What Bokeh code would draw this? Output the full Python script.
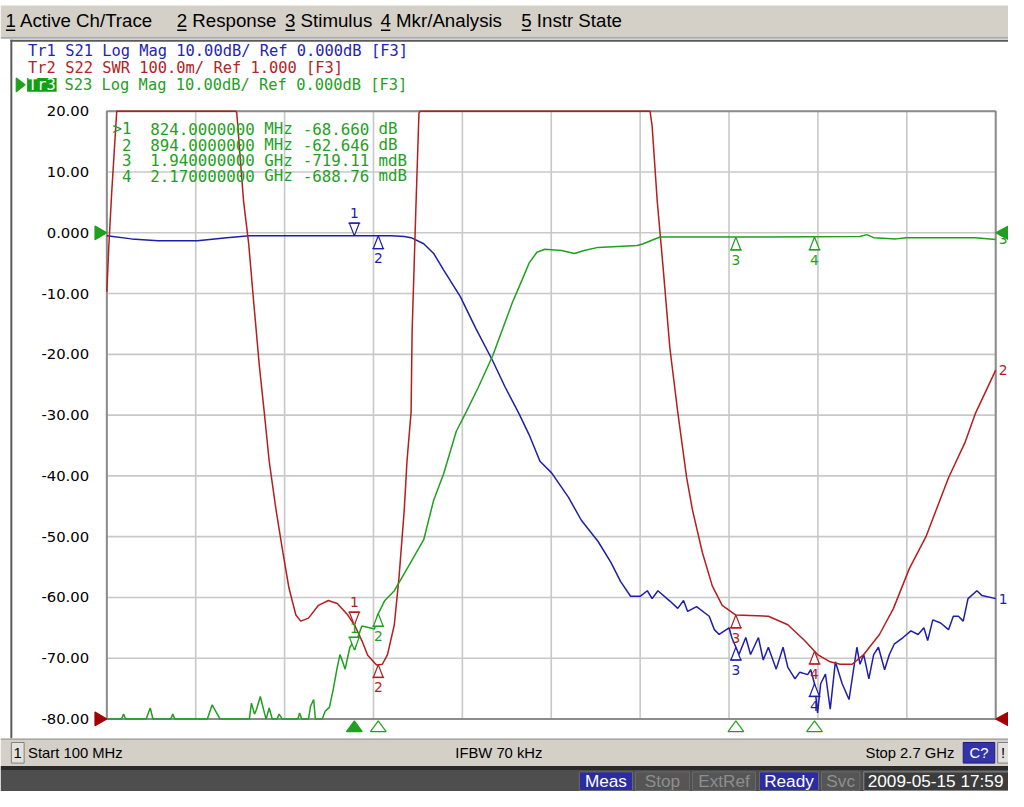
import numpy as np
from bokeh.plotting import figure
from bokeh.models import Range1d, Grid
from bokeh.embed import file_html
from bokeh.resources import INLINE
from bokeh.core.properties import value

# ---------------- data ----------------
F_START, F_STOP = 0.1, 2.7          # GHz
DB_TOP, DB_BOTTOM = 20.0, -80.0     # Tr1 / Tr3 scale
SWR_BOTTOM, SWR_TOP = 1.0, 2.0      # Tr2 scale (100 m/div, ref 1.000 at bottom)

s21_f = [0.100, 0.172, 0.250, 0.365, 0.451, 0.517, 0.932, 0.970, 0.990, 1.027, 1.056, 1.085, 1.134, 1.180,
         1.229, 1.266, 1.306, 1.335, 1.367, 1.401, 1.450, 1.488, 1.537, 1.574, 1.603, 1.632, 1.661, 1.681,
         1.695, 1.712, 1.747, 1.770, 1.787, 1.799, 1.825, 1.862, 1.877, 1.891, 1.920, 1.928, 1.949, 1.969,
         1.983, 2.006, 2.020, 2.035, 2.058, 2.078, 2.092, 2.113, 2.127, 2.150, 2.159, 2.170, 2.179, 2.188,
         2.202, 2.216, 2.231, 2.251, 2.271, 2.294, 2.303, 2.314, 2.329, 2.343, 2.357, 2.375, 2.389, 2.403,
         2.429, 2.452, 2.473, 2.490, 2.501, 2.516, 2.539, 2.562, 2.576, 2.591, 2.605, 2.619, 2.645, 2.660,
         2.700]
s21_db = [-0.5, -1.0, -1.3, -1.3, -0.8, -0.5, -0.5, -0.6, -0.8, -1.8, -3.4, -6.1, -10.5, -15.8,
          -21.1, -25.5, -29.8, -33.2, -37.6, -39.5, -43.5, -47.3, -50.8, -54.2, -57.4, -59.8, -59.8, -58.9,
          -60.2, -58.9, -60.6, -61.8, -60.5, -62.3, -61.5, -63.1, -65.3, -66.1, -65.0, -66.6, -69.4, -66.6,
          -69.4, -66.6, -70.3, -68.2, -71.8, -68.2, -71.5, -73.4, -72.3, -72.7, -71.9, -74.2, -79.0, -74.2,
          -72.6, -78.4, -70.6, -74.2, -76.8, -68.2, -71.0, -69.4, -73.4, -69.4, -68.2, -71.9, -69.4, -67.7,
          -66.6, -65.5, -66.1, -65.0, -67.1, -63.7, -64.2, -65.3, -63.1, -63.1, -63.9, -60.2, -58.9, -59.7,
          -60.2]

s22_f = [0.100, 0.106, 0.114, 0.129, 0.477, 0.480, 0.500, 0.515, 0.529, 0.546, 0.561, 0.575, 0.595, 0.615,
         0.633, 0.653, 0.667, 0.690, 0.719, 0.748, 0.774, 0.805, 0.826, 0.846, 0.863, 0.889, 0.906, 0.921,
         0.941, 0.955, 0.970, 0.978, 0.990, 0.993, 1.004, 1.013, 1.016, 1.689, 1.695, 1.710, 1.727, 1.747,
         1.770, 1.796, 1.813, 1.842, 1.871, 1.900, 1.940, 2.035, 2.092, 2.141, 2.179, 2.216, 2.245, 2.280,
         2.314, 2.360, 2.401, 2.447, 2.496, 2.562, 2.611, 2.640, 2.700]
s22_swr = [1.703, 1.779, 1.863, 2.0, 2.0, 1.998, 1.852, 1.782, 1.690, 1.582, 1.502, 1.424, 1.344, 1.274,
           1.215, 1.171, 1.161, 1.166, 1.187, 1.195, 1.190, 1.171, 1.153, 1.129, 1.105, 1.089, 1.090, 1.106,
           1.155, 1.235, 1.344, 1.424, 1.505, 1.637, 1.840, 1.997, 2.0, 2.0, 1.976, 1.852, 1.744, 1.610,
           1.505, 1.397, 1.344, 1.274, 1.219, 1.187, 1.171, 1.169, 1.155, 1.129, 1.106, 1.094, 1.090, 1.090,
           1.106, 1.139, 1.182, 1.247, 1.300, 1.397, 1.456, 1.502, 1.574]

s23_f = [0.100, 0.143, 0.149, 0.155, 0.215, 0.227, 0.235, 0.287, 0.293, 0.299, 0.394, 0.408, 0.431, 0.517,
         0.523, 0.532, 0.538, 0.549, 0.561, 0.566, 0.575, 0.584, 0.598, 0.604, 0.613, 0.659, 0.664, 0.670,
         0.690, 0.696, 0.705, 0.710, 0.730, 0.739, 0.751, 0.762, 0.774, 0.782, 0.791, 0.797, 0.811, 0.820,
         0.826, 0.834, 0.846, 0.869, 0.883, 0.892, 0.912, 0.941, 0.978, 1.027, 1.056, 1.085, 1.122, 1.151,
         1.186, 1.229, 1.258, 1.286, 1.315, 1.335, 1.358, 1.381, 1.430, 1.468, 1.496, 1.537, 1.652, 1.669,
         1.718, 1.920, 2.303, 2.323, 2.343, 2.409, 2.438, 2.640, 2.700]
s23_db = [-80, -80, -79.2, -80, -80, -78.2, -80, -80, -79.2, -80, -80, -77.7, -80, -80,
          -77.4, -79.2, -78.4, -76.3, -79.0, -80, -78.2, -80, -80, -79.2, -80, -80, -79.0, -80,
          -80, -77.9, -76.8, -80, -80, -78.7, -78.1, -75.2, -71.5, -69.4, -70.8, -71.8, -68.2, -67.4,
          -68.6, -66.6, -64.7, -65.0, -65.2, -62.9, -60.6, -58.9, -55.3, -50.5, -44.0, -39.7, -32.7, -29.5,
          -25.5, -20.2, -15.8, -11.5, -7.7, -5.0, -3.2, -2.7, -2.9, -3.4, -2.9, -2.4, -2.1, -1.8,
          -0.7, -0.7, -0.6, -0.3, -0.8, -1.0, -0.8, -0.8, -1.1]

marker_f = [0.824, 0.894, 1.940, 2.170]
marker_names = ["1", "2", "3", "4"]
s23_marker_db = [-68.660, -62.646, -0.71911, -0.68876]
table_num = [">1", "2", "3", "4"]
table_freq = ["824.0000000", "894.0000000", "1.940000000", "2.170000000"]
table_funit = ["MHz", "MHz", "GHz", "GHz"]
table_val = ["-68.660", "-62.646", "-719.11", "-688.76"]
table_vunit = ["dB", "dB", "mdB", "mdB"]

y_ticks = [20, 10, 0, -10, -20, -30, -40, -50, -60, -70, -80]
y_tick_labels = ["20.00", "10.00", "0.000", "-10.00", "-20.00", "-30.00", "-40.00",
                 "-50.00", "-60.00", "-70.00", "-80.00"]
REF_DB, REF_SWR = 0.0, 1.0

menu_items = ["1 Active Ch/Trace", "2 Response", "3 Stimulus", "4 Mkr/Analysis", "5 Instr State"]
hdr_tr1 = "Tr1 S21 Log Mag 10.00dB/ Ref 0.000dB [F3]"
hdr_tr2 = "Tr2 S22 SWR 100.0m/ Ref 1.000 [F3]"
hdr_tr3_name = "Tr3"
hdr_tr3 = "S23 Log Mag 10.00dB/ Ref 0.000dB [F3]"
start_txt, ifbw_txt, stop_txt = "Start 100 MHz", "IFBW 70 kHz", "Stop 2.7 GHz"
status_items = ["Meas", "Stop", "ExtRef", "Ready", "Svc"]
status_active = [True, False, False, True, False]
date_txt = "2009-05-15 17:59"

# ---------------- layout ----------------
W, H = 1008, 791
REF_W, REF_H = 1024, 807
SX = W / REF_W
GX0, GX1, GY0, GY1 = 108, 1011, 113, 733     # grid area in reference-screen pixels
DX = (F_STOP - F_START) / (GX1 - GX0)
PDB = (DB_TOP - DB_BOTTOM) / (GY1 - GY0)
PSWR = (SWR_TOP - SWR_BOTTOM) / (GY1 - GY0)

BLUE, RED, GREEN = "#1e1eac", "#b41e1e", "#1fa01f"
GRAYBAR = "#d4d0c8"
MONO, SANS, UI = "DejaVu Sans Mono", "DejaVu Sans", "Liberation Sans"


def X(px):
    return F_START + (px - GX0) * DX


def Y(py):
    return DB_TOP - (py - GY0) * PDB


def YS(py):
    return SWR_TOP - (py - GY0) * PSWR


def fs(size):
    return f"{size * SX:.1f}px"


p = figure(width=W, height=H, title=None,
           x_range=Range1d(X(0), X(REF_W)), y_range=Range1d(Y(REF_H), Y(0)),
           x_axis_location=None, y_axis_location=None,
           toolbar_location=None, output_backend="svg",
           min_border=0, background_fill_color="white", border_fill_color="white")
p.extra_y_ranges = {"swr": Range1d(YS(REF_H), YS(0))}
p.outline_line_color = None
p.center = [r for r in p.center if not isinstance(r, Grid)]


def box(x0, y0, x1, y1, fill, line=None):
    p.quad(left=[X(x0)], right=[X(x1)], top=[Y(y0)], bottom=[Y(y1)],
           fill_color=fill, line_color=line, line_width=1)


def label(px, py, s, size, color="black", font=UI, align="left"):
    p.text(x=[X(px)], y=[Y(py)], text=[s], text_font=value(font), text_font_size=fs(size),
           text_color=color, text_align=align, text_baseline="middle")


def tri(xs, ys, fill, line, rng="default"):
    p.patch(xs, ys, fill_color=fill, line_color=line, line_width=1.2, y_range_name=rng)


# ---------------- window chrome ----------------
box(0, 5, 1024, 37, GRAYBAR)
box(0, 37, 1024, 39, "#a8a8a8")
for item, px in zip(menu_items, [5, 179, 289, 386, 529]):
    label(px, 20.5, item, 19)
    box(px + 0.5, 29.5, px + 10, 31, "black")

box(10, 40, 1024, 42, "#5a5a5a")
box(10, 40, 12, 753, "#5a5a5a")

label(28, 52, hdr_tr1, 15.6, "#2424b0", MONO)
label(28, 69, hdr_tr2, 15.6, "#b02424", MONO)
box(27, 79, 57, 93, "#12a012")
label(28, 86, hdr_tr3_name, 15.6, "white", MONO)
label(65, 86, hdr_tr3, 15.6, GREEN, MONO)
tri([X(16), X(16), X(25)], [Y(79), Y(93), Y(86)], GREEN, GREEN)

box(0, 753, 1024, 781, GRAYBAR)
box(0, 753, 1024, 754.5, "#a8a8a8")
box(11, 757, 24, 778, "#e4e1dc", "#808080")
label(17.5, 767.5, "1", 15, align="center")
label(28, 767.5, start_txt, 15)
label(462, 767.5, ifbw_txt, 15)
label(969, 767.5, stop_txt, 15, align="right")
box(978, 757, 1010, 778, "#3434aa", "#1c1c78")
label(994, 767.5, "C?", 15, "white", align="center")
box(1013, 757, 1024, 778, "#e4e1dc", "#808080")
label(1018.5, 767.5, "!", 15, align="center")

box(0, 781, 1024, 785, "#2a2a2a")
box(0, 785, 1024, 807, "#4e4e4e")
for s, act, (x0, x1) in zip(status_items, status_active,
                             [(588, 642), (645, 700), (703, 767), (771, 831), (834, 873)]):
    box(x0, 787, x1, 806, "#2c2ca2" if act else "#555555", "#6a6a6a")
    label((x0 + x1) / 2, 796.5, s, 17.5, "white" if act else "#8e8e8e", align="center")
box(877, 787, 1024, 806, "#3c3c3c", "#8a8a8a")
label(881, 796.5, date_txt, 17.5, "white")

# ---------------- graticule ----------------
x_grid = [F_START + i * (F_STOP - F_START) / 10 for i in range(11)]
p.segment(x0=x_grid, y0=[DB_BOTTOM] * 11, x1=x_grid, y1=[DB_TOP] * 11,
          line_color="#c8c8c8", line_width=1.6)
p.segment(x0=[F_START] * len(y_ticks), y0=y_ticks, x1=[F_STOP] * len(y_ticks), y1=y_ticks,
          line_color="#c8c8c8", line_width=1.6)
p.quad(left=[F_START], right=[F_STOP], top=[DB_TOP], bottom=[DB_BOTTOM],
       fill_color=None, line_color="#8c8c8c", line_width=2)
p.text(x=[F_START] * len(y_ticks), y=y_ticks, text=y_tick_labels, x_offset=-18 * SX,
       text_align="right", text_baseline="middle", text_font=value(SANS), text_font_size=fs(15),
       text_color="black")

# ---------------- traces ----------------
p.line(s21_f, s21_db, line_color=BLUE, line_width=1.5)
p.line(s22_f, s22_swr, line_color=RED, line_width=1.5, y_range_name="swr")
p.line(s23_f, s23_db, line_color=GREEN, line_width=1.5)

marker_dir = [1, -1, -1, -1]   # 1: triangle above pointing down, -1: below pointing up


def draw_markers(ys, color, rng, per):
    pxs, pys, bx0, bx1, by, lys = [], [], [], [], [], []
    for f, y, d in zip(marker_f, ys, marker_dir):
        base = y + d * 13 * per
        pxs.append([f, f - 5 * DX, f + 5 * DX])
        pys.append([y, base, base])
        bx0.append(f - 6 * DX)
        bx1.append(f + 6 * DX)
        by.append(base)
        lys.append(y + d * 23 * per)
    p.patches(pxs, pys, fill_color="white", line_color=color, line_width=1.2, y_range_name=rng)
    p.segment(bx0, by, bx1, by, line_color=color, line_width=1.4, y_range_name=rng)
    p.text(x=marker_f, y=lys, text=marker_names, text_color=color, text_align="center",
           text_baseline="middle", text_font=value(SANS), text_font_size=fs(14), y_range_name=rng)


draw_markers(list(np.interp(marker_f, s21_f, s21_db)), BLUE, "default", PDB)
draw_markers(list(np.interp(marker_f, s22_f, s22_swr)), RED, "swr", PSWR)
draw_markers(s23_marker_db, GREEN, "default", PDB)

# marker table (Tr3 active)
rows_y = [Y(131), Y(147), Y(163), Y(179)]
for col, px, align in [(table_num, 133, "right"), (table_freq, 152, "left"), (table_funit, 268, "left"),
                       (table_val, 307, "left"), (table_vunit, 384, "left")]:
    p.text(x=[X(px)] * len(col), y=rows_y, text=col, text_color=GREEN, text_align=align,
           text_baseline="middle", text_font=value(MONO), text_font_size=fs(16))

# right-end trace labels
p.text(x=[F_STOP], y=[s21_db[-1]], text=["1"], x_offset=3, text_color=BLUE, text_font=value(SANS),
       text_font_size=fs(14), text_baseline="middle")
p.text(x=[F_STOP], y=[s22_swr[-1]], text=["2"], x_offset=3, text_color=RED, text_font=value(SANS),
       text_font_size=fs(14), text_baseline="middle", y_range_name="swr")
p.text(x=[F_STOP], y=[s23_db[-1]], text=["3"], x_offset=3, text_color=GREEN, text_font=value(SANS),
       text_font_size=fs(14), text_baseline="middle")

# reference level triangles
tri([F_START, F_START - 12 * DX, F_START - 12 * DX], [REF_DB, REF_DB + 7 * PDB, REF_DB - 7 * PDB], GREEN, GREEN)
tri([F_START, F_START - 12 * DX, F_START - 12 * DX], [REF_SWR, REF_SWR + 7 * PSWR, REF_SWR - 7 * PSWR],
    "#a00000", "#a00000", "swr")
tri([F_STOP, F_STOP + 13 * DX, F_STOP + 13 * DX], [REF_DB, REF_DB + 7 * PDB, REF_DB - 7 * PDB], GREEN, GREEN)
tri([F_STOP, F_STOP + 13 * DX, F_STOP + 13 * DX], [REF_SWR, REF_SWR + 7 * PSWR, REF_SWR - 7 * PSWR],
    "#a00000", "#a00000", "swr")

# stimulus marker triangles below the graticule
for i, f in enumerate(marker_f):
    tri([f, f - 8 * DX, f + 8 * DX], [DB_BOTTOM - 2 * PDB, DB_BOTTOM - 13 * PDB, DB_BOTTOM - 13 * PDB],
        GREEN if i == 0 else "white", GREEN)

open("out.html", "w").write(file_html(p, INLINE))
